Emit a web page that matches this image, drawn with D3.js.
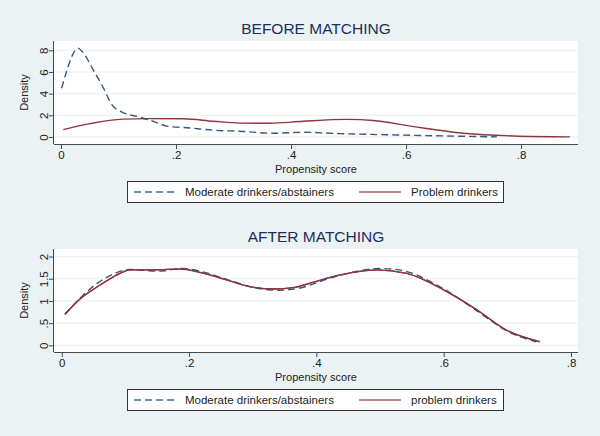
<!DOCTYPE html>
<html><head><meta charset="utf-8">
<script src="https://cdn.jsdelivr.net/npm/d3@7/dist/d3.min.js"></script>
<style>
html,body{margin:0;padding:0;background:#eaf2f3;}
svg{display:block;font-family:"Liberation Sans",Arial,sans-serif;}
</style></head>
<body>
<svg id="chart" width="600" height="436"></svg>
<script>
// ---- data ----
const xTicks = [0, 0.2, 0.4, 0.6, 0.8];
const xTickLabels = ["0", ".2", ".4", ".6", ".8"];

// BEFORE MATCHING
const beforeModerateX = [0.001,0.01,0.019,0.029,0.039,0.056,0.074,0.088,0.106,0.132,0.155,0.184,0.224,0.265,0.311,0.369,0.421,0.485,0.584,0.671,0.758];
const beforeModerateY = [4.5,6.1,7.45,8.2,7.75,6.2,4.5,3.0,2.3,1.9,1.54,1.0,0.83,0.62,0.53,0.34,0.43,0.31,0.18,0.09,0.01];
const beforeProblemX = [0.004,0.05,0.108,0.155,0.213,0.265,0.311,0.363,0.421,0.497,0.543,0.613,0.7,0.787,0.885];
const beforeProblemY = [0.68,1.23,1.65,1.69,1.68,1.45,1.28,1.26,1.45,1.62,1.52,0.95,0.34,0.09,0.01];
const beforeYTicks = [0, 2, 4, 6, 8];
const beforeYTickLabels = ["0", "2", "4", "6", "8"];

// AFTER MATCHING
const afterModerateX = [0.005,0.03,0.056,0.08,0.108,0.13,0.15,0.19,0.22,0.26,0.3,0.34,0.37,0.43,0.5,0.53,0.6,0.65,0.7,0.745];
const afterModerateY = [0.70,1.08,1.40,1.60,1.71,1.69,1.67,1.73,1.66,1.48,1.31,1.24,1.28,1.55,1.73,1.70,1.27,0.80,0.32,0.08];
const afterProblemX = [0.005,0.03,0.056,0.082,0.108,0.145,0.187,0.223,0.26,0.296,0.333,0.364,0.39,0.427,0.495,0.542,0.6,0.652,0.699,0.751];
const afterProblemY = [0.70,1.06,1.32,1.55,1.70,1.70,1.72,1.62,1.47,1.32,1.27,1.30,1.40,1.55,1.70,1.62,1.25,0.80,0.34,0.08];
const afterYTicks = [0, 0.5, 1, 1.5, 2];
const afterYTickLabels = ["0", ".5", "1", "1.5", "2"];

const panels = [
  {title:"BEFORE MATCHING", top:41, bottom:144, xMax:0.899, yMin:-0.65, yMax:8.86,
   yTicks:beforeYTicks, yLabels:beforeYTickLabels,
   mod:{x:beforeModerateX,y:beforeModerateY}, prob:{x:beforeProblemX,y:beforeProblemY},
   legend:["Moderate drinkers/abstainers","Problem drinkers"], legendTop:181},
  {title:"AFTER MATCHING", top:249, bottom:352, xMax:0.811, yMin:-0.15, yMax:2.17,
   yTicks:afterYTicks, yLabels:afterYTickLabels,
   mod:{x:afterModerateX,y:afterModerateY}, prob:{x:afterProblemX,y:afterProblemY},
   legend:["Moderate drinkers/abstainers","problem drinkers"], legendTop:389}
];

const svg = d3.select("#chart");
svg.append("rect").attr("width",600).attr("height",436).attr("fill","#eaf2f3");

const left = 54, right = 578;
const navy = "#1a476f", maroon = "#90353b", axisCol = "#4a4a4a";

panels.forEach(p => {
  const g = svg.append("g");
  const x = d3.scaleLinear().domain([-0.0122, p.xMax]).range([left, right]);
  const y = d3.scaleLinear().domain([p.yMin, p.yMax]).range([p.bottom, p.top]);

  g.append("rect").attr("x",left).attr("y",p.top).attr("width",right-left).attr("height",p.bottom-p.top).attr("fill","#ffffff");

  // grid
  g.selectAll("line.grid").data(p.yTicks).join("line")
    .attr("x1",left).attr("x2",right)
    .attr("y1",d=>y(d)).attr("y2",d=>y(d))
    .attr("stroke","#eaf2f3").attr("stroke-width",1.2);

  // title
  g.append("text").attr("x",(left+right)/2).attr("y",p.top-7)
    .attr("text-anchor","middle").attr("font-size",15.5).attr("fill","#1e2d5c")
    .text(p.title);

  // axes
  const xAxis = d3.axisBottom(x).tickValues(xTicks).tickFormat((d,i)=>xTickLabels[i]).tickSize(5).tickSizeOuter(0);
  const ax = g.append("g").attr("transform",`translate(0,${p.bottom})`).call(xAxis);
  ax.select(".domain").attr("stroke",axisCol).attr("d",`M${left},0.5H${right}`);
  ax.selectAll(".tick line").attr("stroke",axisCol);
  ax.selectAll(".tick text").attr("font-size",11.5).attr("fill","#222").attr("dy","0.75em").attr("y",6)
    .attr("font-family","Liberation Sans, Arial, sans-serif");

  const yAxis = d3.axisLeft(y).tickValues(p.yTicks).tickFormat((d,i)=>p.yLabels[i]).tickSize(5).tickSizeOuter(0);
  const ay = g.append("g").attr("transform",`translate(${left},0)`).call(yAxis);
  ay.select(".domain").attr("stroke",axisCol).attr("d",`M-0.5,${p.top}V${p.bottom}`);
  ay.selectAll(".tick line").attr("stroke",axisCol);
  ay.selectAll(".tick text").attr("font-size",11.5).attr("fill","#222")
    .attr("font-family","Liberation Sans, Arial, sans-serif")
    .attr("x",null).attr("dy",null)
    .attr("transform","translate(-6.5,0) rotate(-90)")
    .attr("text-anchor","middle");

  // axis titles
  g.append("text").attr("transform",`translate(28,${(p.top+p.bottom)/2}) rotate(-90)`)
    .attr("text-anchor","middle").attr("font-size",11).attr("fill","#222").text("Density");
  g.append("text").attr("x",(left+right)/2).attr("y",p.bottom+29)
    .attr("text-anchor","middle").attr("font-size",11).attr("fill","#222").text("Propensity score");

  // lines
  const line = d3.line().x(d=>x(d[0])).y(d=>y(d[1])).curve(d3.curveMonotoneX);
  const modPts = p.mod.x.map((v,i)=>[v,p.mod.y[i]]);
  const probPts = p.prob.x.map((v,i)=>[v,p.prob.y[i]]);
  g.append("path").datum(probPts).attr("d",line).attr("fill","none")
    .attr("stroke",maroon).attr("stroke-width",1.4);
  g.append("path").datum(modPts).attr("d",line).attr("fill","none")
    .attr("stroke",navy).attr("stroke-width",1.4).attr("stroke-dasharray","7,4").attr("opacity",0.9);
  if (p.title === "AFTER MATCHING") {
    g.append("path").datum(probPts).attr("d",line).attr("fill","none")
      .attr("stroke",maroon).attr("stroke-width",1.2);
  }

  // legend
  const lt = p.legendTop, lh = 21;
  const lg = g.append("g");
  lg.append("rect").attr("x",127.5).attr("y",lt+0.5).attr("width",376).attr("height",lh)
    .attr("fill","#ffffff").attr("stroke","#333").attr("stroke-width",1);
  const cy = lt + lh/2 + 0.5;
  lg.append("line").attr("x1",134).attr("x2",175).attr("y1",cy).attr("y2",cy)
    .attr("stroke",navy).attr("stroke-width",1.4).attr("stroke-dasharray","7,4").attr("opacity",0.8);
  lg.append("text").attr("x",185).attr("y",cy+4).attr("font-size",11.5).attr("fill","#222").text(p.legend[0]);
  lg.append("line").attr("x1",359).attr("x2",401).attr("y1",cy).attr("y2",cy)
    .attr("stroke",maroon).attr("stroke-width",1.4).attr("opacity",0.8);
  lg.append("text").attr("x",411).attr("y",cy+4).attr("font-size",11.5).attr("fill","#222").text(p.legend[1]);
});
</script>
</body></html>
